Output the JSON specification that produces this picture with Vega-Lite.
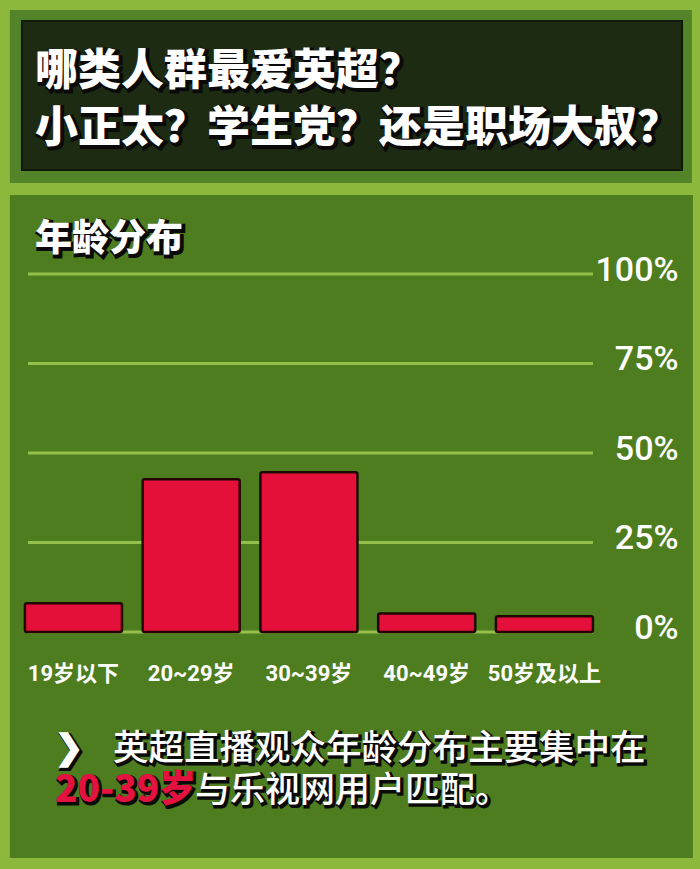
{
  "$schema": "https://vega.github.io/schema/vega-lite/v6.json",
  "width": 700,
  "height": 869,
  "autosize": "none",
  "padding": 0,
  "background": "#8cb83c",
  "config": {
    "view": {"stroke": null},
    "font": "Noto Sans CJK SC",
    "axisX": {"domain": false, "ticks": false, "tickSize": 0, "grid": false, "labelAngle": 0, "labelPadding": 23, "labelBaseline": "middle", "labelColor": "#ffffff", "labelFont": "Roboto, Noto Sans CJK SC", "labelFontSize": 22, "labelFontWeight": "bold", "bandPosition": 0.5, "zindex": 1, "title": null},
    "axisY": {"domain": false, "ticks": false, "tickSize": 0, "grid": false, "labelPadding": 0, "labelAlign": "right", "labelBaseline": "middle", "labelOffset": -4, "labelColor": "#ffffff", "labelFont": "Roboto", "labelFontSize": 34, "labelFontWeight": 500, "zindex": 1, "title": null}
  },
  "datasets": {
    "ages": [
      {"age": "19岁以下", "share": 8.0},
      {"age": "20~29岁", "share": 42.7},
      {"age": "30~39岁", "share": 44.6},
      {"age": "40~49岁", "share": 5.2},
      {"age": "50岁及以上", "share": 4.4}
    ],
    "grid": [{"v": 0}, {"v": 25}, {"v": 50}, {"v": 75}, {"v": 100}]
  },
  "layer": [
    {
      "data": {"values": [{"part": "frame"}]},
      "mark": {"type": "rect", "color": "#54842a"},
      "encoding": {
        "x": {"datum": "19岁以下", "bandPosition": -0.155},
        "x2": {"datum": "50岁及以上", "bandPosition": 2.02},
        "y": {"datum": 173.74},
        "y2": {"datum": 125.42}
      }
    },
    {
      "data": {"values": [{"part": "box"}]},
      "mark": {"type": "rect", "color": "#1c2b12", "stroke": "#11190a", "strokeWidth": 2},
      "encoding": {
        "x": {"datum": "19岁以下", "bandPosition": -0.031},
        "x2": {"datum": "50岁及以上", "bandPosition": 1.918},
        "y": {"datum": 170.67},
        "y2": {"datum": 129.05}
      }
    },
    {
      "data": {"values": [{"part": "grass"}]},
      "mark": {"type": "rect", "color": "#4e7d20"},
      "encoding": {
        "x": {"datum": "19岁以下", "bandPosition": -0.155},
        "x2": {"datum": "50岁及以上", "bandPosition": 2.031},
        "y": {"datum": 122.07},
        "y2": {"datum": -63.13}
      }
    },
    {
      "data": {"name": "grid"},
      "mark": {"type": "rule", "color": "#a6cf55", "strokeWidth": 3, "opacity": 0.8},
      "encoding": {
        "x": {"datum": "19岁以下", "bandPosition": 0.031},
        "x2": {"datum": "50岁及以上", "bandPosition": 1.0},
        "y": {"field": "v", "type": "quantitative"}
      }
    },
    {
      "data": {"name": "ages"},
      "mark": {"type": "bar", "fill": "#e5103a", "stroke": "#220606", "strokeWidth": 2.5, "cornerRadius": 2},
      "encoding": {
        "x": {
          "field": "age",
          "type": "nominal",
          "scale": {
            "domain": ["19岁以下", "20~29岁", "30~39岁", "40~49岁", "50岁及以上"],
            "paddingInner": 0.176,
            "paddingOuter": 0.5605,
            "align": 0.189
          },
          "axis": {"orient": "bottom", "offset": -219, "bandPosition": 0.5, "zindex": 1, "title": null}
        },
        "y": {
          "field": "share",
          "type": "quantitative",
          "scale": {"domain": [-66.2, 176.54], "nice": false, "zero": false},
          "axis": {
            "orient": "right",
            "offset": -22,
            "zindex": 1,
            "values": [0, 25, 50, 75, 100],
            "labelExpr": "datum.value + '%'",
            "grid": false,
            "title": null
          }
        },
        "y2": {"datum": 0}
      }
    },
    {
      "data": {"values": [{"t": "哪类人群最爱英超？\n小正太？学生党？还是职场大叔？"}]},
      "encoding": {
        "x": {"datum": "19岁以下", "bandPosition": 0.103},
        "y": {"datum": 156.4},
        "text": {"field": "t", "type": "nominal"}
      },
      "layer": [
        {"mark": {"type": "text", "align": "left", "baseline": "middle", "lineBreak": "\n", "lineHeight": 57, "fontSize": 43, "fontWeight": 900, "color": "#0a0a0a", "stroke": "#0a0a0a", "strokeWidth": 4, "dx": 2, "dy": 2}},
        {"mark": {"type": "text", "align": "left", "baseline": "middle", "lineBreak": "\n", "lineHeight": 57, "fontSize": 43, "fontWeight": 900, "color": "#ffffff"}}
      ]
    },
    {
      "data": {"values": [{"t": "年龄分布"}]},
      "encoding": {
        "x": {"datum": "19岁以下", "bandPosition": 0.103},
        "y": {"datum": 109.5},
        "text": {"field": "t", "type": "nominal"}
      },
      "layer": [
        {"mark": {"type": "text", "align": "left", "baseline": "middle", "fontSize": 37, "fontWeight": 900, "color": "#0a0a0a", "stroke": "#0a0a0a", "strokeWidth": 4, "dx": 2, "dy": 2}},
        {"mark": {"type": "text", "align": "left", "baseline": "middle", "fontSize": 37, "fontWeight": 900, "color": "#ffffff"}}
      ]
    },
    {
      "data": {"values": [{"t": "❯"}]},
      "encoding": {
        "x": {"datum": "19岁以下", "bandPosition": 0.454},
        "y": {"datum": -32.68},
        "text": {"field": "t", "type": "nominal"}
      },
      "layer": [
        {"mark": {"type": "text", "align": "center", "baseline": "middle", "font": "DejaVu Sans", "fontSize": 34, "fontWeight": "bold", "color": "#0a0a0a", "stroke": "#0a0a0a", "strokeWidth": 4, "dx": 2, "dy": 2}},
        {"mark": {"type": "text", "align": "center", "baseline": "middle", "font": "DejaVu Sans", "fontSize": 34, "fontWeight": "bold", "color": "#ffffff", "stroke": "#ffffff", "strokeWidth": 1.5}}
      ]
    },
    {
      "data": {"values": [{"t": "英超直播观众年龄分布主要集中在"}]},
      "encoding": {
        "x": {"datum": "19岁以下", "bandPosition": 0.907},
        "y": {"datum": -32.68},
        "text": {"field": "t", "type": "nominal"}
      },
      "layer": [
        {"mark": {"type": "text", "align": "left", "baseline": "middle", "fontSize": 35.5, "fontWeight": 500, "color": "#0a0a0a", "stroke": "#0a0a0a", "strokeWidth": 3, "dx": 2, "dy": 2}},
        {"mark": {"type": "text", "align": "left", "baseline": "middle", "fontSize": 35.5, "fontWeight": 500, "color": "#ffffff"}}
      ]
    },
    {
      "data": {"values": [{"t": "20-39岁"}]},
      "encoding": {
        "x": {"datum": "19岁以下", "bandPosition": 0.309},
        "y": {"datum": -44.41},
        "text": {"field": "t", "type": "nominal"}
      },
      "layer": [
        {"mark": {"type": "text", "align": "left", "baseline": "middle", "fontSize": 37, "fontWeight": 900, "color": "#0a0a0a", "stroke": "#0a0a0a", "strokeWidth": 3, "dx": 2, "dy": 2}},
        {"mark": {"type": "text", "align": "left", "baseline": "middle", "fontSize": 37, "fontWeight": 900, "color": "#e4123e"}}
      ]
    },
    {
      "data": {"values": [{"t": "与乐视网用户匹配。"}]},
      "encoding": {
        "x": {"datum": "20~29岁", "bandPosition": 0.539},
        "y": {"datum": -44.41},
        "text": {"field": "t", "type": "nominal"}
      },
      "layer": [
        {"mark": {"type": "text", "align": "left", "baseline": "middle", "fontSize": 35, "fontWeight": 500, "color": "#0a0a0a", "stroke": "#0a0a0a", "strokeWidth": 3, "dx": 2, "dy": 2}},
        {"mark": {"type": "text", "align": "left", "baseline": "middle", "fontSize": 35, "fontWeight": 500, "color": "#ffffff"}}
      ]
    }
  ]
}
